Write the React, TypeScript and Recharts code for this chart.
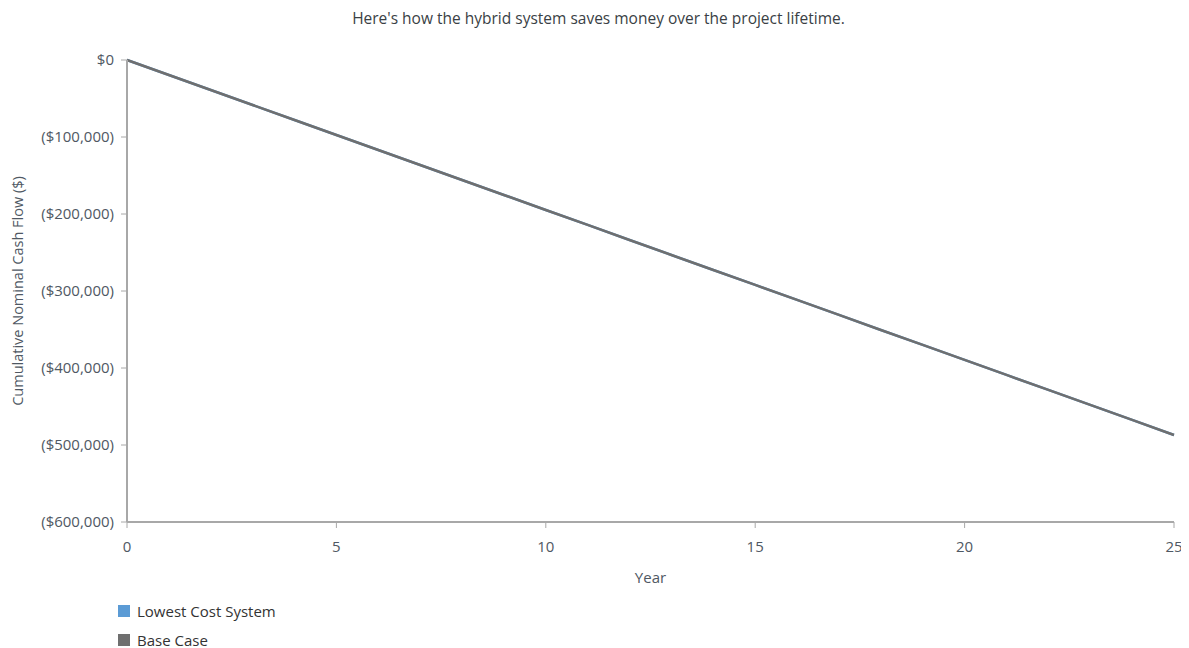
import { LineChart, Line, XAxis, YAxis, Label } from 'recharts';

const years = [0, 1, 2, 3, 4, 5, 6, 7, 8, 9, 10, 11, 12, 13, 14, 15, 16, 17, 18, 19, 20, 21, 22, 23, 24, 25];
const lowestCost = [
  0, -19500, -39000, -58400, -77900, -97400, -116900, -136300, -155800, -175300,
  -194800, -214200, -233700, -253200, -272700, -292100, -311600, -331100, -350600,
  -370000, -389500, -409000, -428500, -447900, -467400, -487000,
];
const baseCase = [
  0, -19500, -39000, -58400, -77900, -97400, -116900, -136300, -155800, -175300,
  -194800, -214200, -233700, -253200, -272700, -292100, -311600, -331100, -350600,
  -370000, -389500, -409000, -428500, -447900, -467400, -487000,
];
const xTicks = [0, 5, 10, 15, 20, 25];
const yTicks = [0, -100000, -200000, -300000, -400000, -500000, -600000];

const series = [
  { key: 'lowestCost', name: 'Lowest Cost System', color: '#5b9bd5' },
  { key: 'baseCase', name: 'Base Case', color: '#6f6f6f' },
];

const data = years.map((year, i) => ({ year, lowestCost: lowestCost[i], baseCase: baseCase[i] }));

const FONT = '"Open Sans", "Noto Sans", sans-serif';
const TEXT = '#4f5863';
const tickStyle = { fill: TEXT, fontSize: 15, fontFamily: FONT };

const money = (v: number) => {
  if (v === 0) return '$0';
  const s = '$' + Math.abs(v).toLocaleString('en-US');
  return v < 0 ? `(${s})` : s;
};

export default function App() {
  return (
    <div style={{ position: 'relative', width: 1181, height: 640, fontFamily: FONT }}>
      <div
        style={{
          position: 'absolute',
          top: -1,
          left: 0,
          width: 1181,
          textAlign: 'center',
          fontSize: 15.5,
          color: '#3a3f45',
        }}
      >
        Here's how the hybrid system saves money over the project lifetime.
      </div>
      <LineChart
        width={1181}
        height={590}
        data={data}
        margin={{ top: 52, right: 15, bottom: 46, left: 0 }}
      >
        <XAxis
          dataKey="year"
          type="number"
          domain={[0, 25]}
          ticks={xTicks}
          tick={tickStyle}
          tickLine={{ stroke: '#a8a8a8' }}
          axisLine={{ stroke: '#a8a8a8', strokeWidth: 2 }}
          tickSize={6}
          tickMargin={13}
          height={30}
        >
          <Label value="Year" position="bottom" offset={20} style={{ fill: TEXT, fontSize: 15, fontFamily: FONT }} />
        </XAxis>
        <YAxis
          type="number"
          domain={[-600000, 0]}
          ticks={yTicks}
          tickFormatter={money}
          tick={tickStyle}
          tickLine={{ stroke: '#a8a8a8' }}
          axisLine={{ stroke: '#a8a8a8', strokeWidth: 2 }}
          tickSize={6}
          tickMargin={7}
          width={119}
        >
          <Label
            value="Cumulative Nominal Cash Flow ($)"
            angle={-90}
            position="insideLeft"
            offset={10}
            style={{ textAnchor: 'middle', fill: TEXT, fontSize: 14.5, fontFamily: FONT }}
          />
        </YAxis>
        {series.map((s) => (
          <Line
            key={s.key}
            dataKey={s.key}
            name={s.name}
            stroke={s.color}
            strokeWidth={2.5}
            dot={false}
            isAnimationActive={false}
          />
        ))}
      </LineChart>
      <div style={{ position: 'absolute', left: 110, top: 588 }}>
        {series.map((s) => (
          <div
            key={s.key}
            style={{ display: 'flex', alignItems: 'center', height: 29, fontSize: 15, color: '#333' }}
          >
            <span style={{ display: 'inline-block', width: 12, height: 12, background: s.color, marginRight: 7 }} />
            {s.name}
          </div>
        ))}
      </div>
    </div>
  );
}
